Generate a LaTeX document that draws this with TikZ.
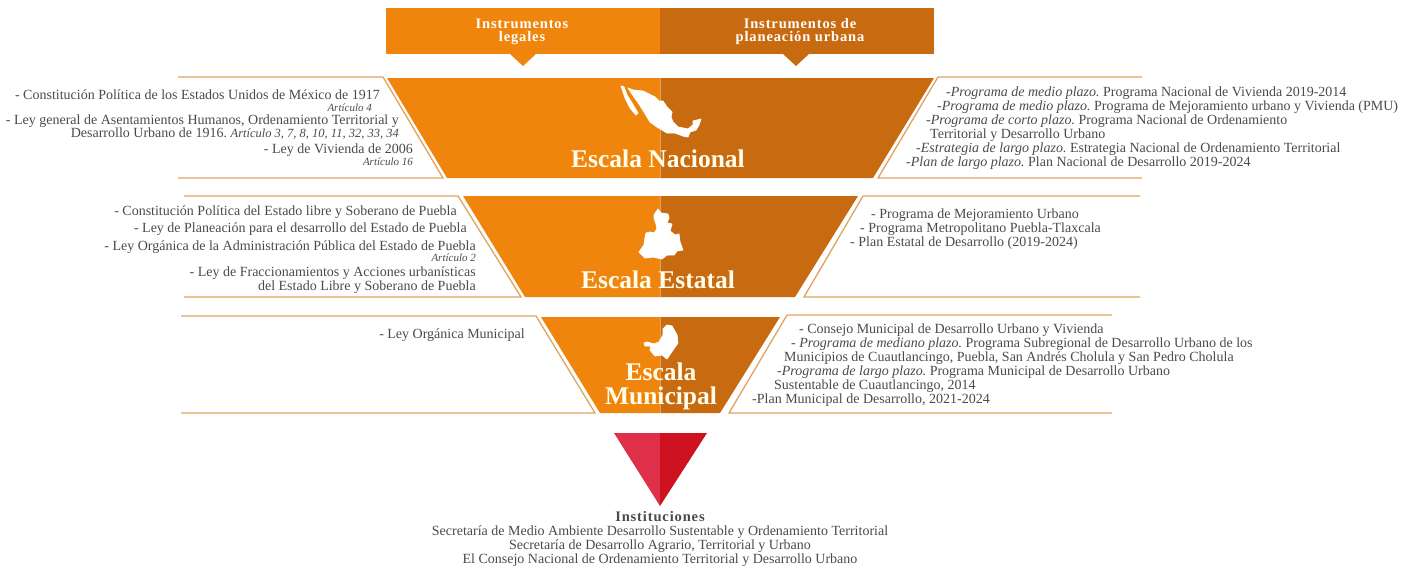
\documentclass[tikz,border=0pt]{standalone}
\usepackage{fontspec}
\setmainfont{Liberation Serif}
\newfontfamily\headfont[LetterSpace=6]{Liberation Serif}
\usepackage{tikz}
\definecolor{naranja}{HTML}{F0850E}
\definecolor{ocre}{HTML}{C86A10}
\definecolor{borde}{HTML}{DFA35F}
\definecolor{rojoa}{HTML}{DF3049}
\definecolor{rojob}{HTML}{CE1220}
\definecolor{texto}{HTML}{4A4A4A}
\tikzstyle{ley}=[inner sep=0pt, yshift=-2pt, text=texto, font=\fontsize{14}{14}\selectfont\frenchspacing, anchor=mid east]
\tikzstyle{plan}=[ley, anchor=mid west]
\tikzstyle{art}=[ley, font=\fontsize{11}{12}\selectfont\itshape]
\tikzstyle{head}=[inner sep=0pt, text=white, align=center, font=\fontsize{14.5}{13}\selectfont\headfont\bfseries]
\tikzstyle{escala}=[inner sep=0pt, text=white!92!yellow, align=center, font=\fontsize{25.5}{24}\selectfont\bfseries]
\tikzstyle{inst}=[inner sep=0pt, text=texto, font=\fontsize{14}{14}\selectfont]
\tikzstyle{marco}=[draw=borde, line width=1.3pt, line join=miter]
\tikzstyle{mapa}=[fill=white, draw=white, line width=0.8pt, line join=round]
\newcommand{\ley}[2]{node (#1)[ley]{#2}}
\newcommand{\plan}[2]{node (#1)[plan]{#2}}
\newcommand{\art}[2]{node (#1)[art]{#2}}
\newcommand{\inst}[2]{node (#1)[inst]{#2}}
% half funnel, left and right colour
\newcommand{\embudo}[5]{
	\fill[naranja] (#1,#3) -- (660,#3) -- (660,#4) -- (#2,#4) -- cycle;
	\fill[ocre] (660,#3) -- (#5,#3) -- (1320-#2,#4) -- (660,#4) -- cycle;
	\draw[borde, line width=0.4pt] (660,#3) -- (660,#4);
}

\begin{document}
\begin{tikzpicture}[x=1pt,y=-1pt]
		\useasboundingbox (0,0) rectangle (1416,568);
		
		% Header
		\fill[naranja] (386,8) rectangle (660,54);
		\fill[ocre] (660,8) rectangle (934,54);
		\fill[naranja] (510,54) -- (536,54) -- (523,66) -- cycle;
		\fill[ocre] (783,54) -- (809,54) -- (796,66) -- cycle;
		\path (522,32) node (legales)[head]{Instrumentos\\legales};
		\path (800,32) node (planeacion)[head]{Instrumentos de\\planeaci\'on urbana};
		
		% Funnels
		\embudo{387}{447}{78}{178}{934}
		\embudo{463}{525}{196}{297}{858}
		\embudo{541}{600}{317}{413}{780}
		
		% Frames
		\draw[marco] (178,77) -- (383,77) -- (443,178) -- (178,178);
		\draw[marco] (1142,77) -- (938,77) -- (878,178) -- (1142,178);
		\draw[marco] (184,196) -- (458,196) -- (521,297) -- (184,297);
		\draw[marco] (1140,196) -- (863,196) -- (804,297) -- (1140,297);
		\draw[marco] (181,316) -- (536,316) -- (595,413) -- (181,413);
		\draw[marco] (1112,315) -- (787,315) -- (729,413) -- (1112,413);
		
		% Maps
		\path[mapa] (621,86) -- (624,87) -- (627,95) -- (632,103) -- (638,113) -- (636,115) -- (630,108) -- (625,98) -- cycle;
		\path[mapa] (628,88) -- (633,90) -- (643,91) -- (649,94) -- (655,97) -- (659,101) -- (663,101) -- (667,107) -- (672,112) -- (671,117) -- (673,122) -- (678,127) -- (688,129) -- (693,125) -- (693,121) -- (701,119) -- (699,125) -- (696,130) -- (690,132) -- (688,137) -- (683,136) -- (675,133) -- (667,133) -- (657,127) -- (650,122) -- (644,112) -- (639,104) -- (634,97) -- cycle;
		\path[mapa] (658,209) -- (661,213) -- (668,214) -- (669,218) -- (667,223) -- (672,224) -- (670,231) -- (675,235) -- (679,234) -- (680,242) -- (683,250) -- (677,251) -- (674,255) -- (667,255) -- (662,259) -- (653,257) -- (645,258) -- (639,252) -- (644,245) -- (645,238) -- (646,233) -- (650,232) -- (654,233) -- (657,229) -- (656,224) -- (654,218) -- (654,215) -- cycle;
		\path[mapa] (663,329) -- (667,325) -- (672,326) -- (677,335) -- (678,343) -- (673,350) -- (667,359) -- (662,355) -- (655,356) -- (650,350) -- (651,346) -- (645,346) -- (644,343) -- (647,342) -- (654,344) -- (659,342) -- (663,335) -- cycle;
		
		% Scale names
		\path (658,159) node (nacional)[escala]{Escala Nacional};
		\path (658,280) node (estatal)[escala]{Escala Estatal};
		\path (661,386) node (municipal)[escala]{Escala\\Municipal};
		
		% Legal instruments
		\path (380,95) \ley{n1}{- Constituci\'on Pol\'itica de los Estados Unidos de M\'exico de 1917};
		\path (372,107) \art{n2}{Art\'iculo 4};
		\path (399,120) \ley{n3}{- Ley general de Asentamientos Humanos, Ordenamiento Territorial y};
		\path (399,133) node (n4)[ley]{Desarrollo Urbano de 1916. {\fontsize{12.5}{12}\selectfont\itshape Art\'iculo 3, 7, 8, 10, 11, 32, 33, 34}};
		\path (413,149) \ley{n5}{- Ley de Vivienda de 2006};
		\path (413,161) \art{n6}{Art\'iculo 16};
		
		\path (457,211) \ley{e1}{- Constituci\'on Pol\'itica del Estado libre y Soberano de Puebla};
		\path (467,228) \ley{e2}{- Ley de Planeaci\'on para el desarrollo del Estado de Puebla};
		\path (476,246) \ley{e3}{- Ley Org\'anica de la Administraci\'on P\'ublica del Estado de Puebla};
		\path (476,257) \art{e4}{Art\'iculo 2};
		\path (476,272) \ley{e5}{- Ley de Fraccionamientos y Acciones urban\'isticas};
		\path (476,286) \ley{e6}{del Estado Libre y Soberano de Puebla};
		
		\path (525,334) \ley{m1}{- Ley Org\'anica Municipal};
		
		% Planning instruments
		\path (946,92) \plan{pn1}{\textit{-Programa de medio plazo.} Programa Nacional de Vivienda 2019-2014};
		\path (937,106) \plan{pn2}{\textit{-Programa de medio plazo.} Programa de Mejoramiento urbano y Vivienda (PMU)};
		\path (926,120) \plan{pn3}{\textit{-Programa de corto plazo.} Programa Nacional de Ordenamiento};
		\path (930,134) \plan{pn4}{Territorial y Desarrollo Urbano};
		\path (916,148) \plan{pn5}{\textit{-Estrategia de largo plazo.} Estrategia Nacional de Ordenamiento Territorial};
		\path (906,162) \plan{pn6}{\textit{-Plan de largo plazo.} Plan Nacional de Desarrollo 2019-2024};
		
		\path (871,214) \plan{pe1}{- Programa de Mejoramiento Urbano};
		\path (860,228) \plan{pe2}{- Programa Metropolitano Puebla-Tlaxcala};
		\path (850,242) \plan{pe3}{- Plan Estatal de Desarrollo (2019-2024)};
		
		\path (799,329) \plan{pm1}{- Consejo Municipal de Desarrollo Urbano y Vivienda};
		\path (791,343) \plan{pm2}{- \textit{Programa de mediano plazo.} Programa Subregional de Desarrollo Urbano de los};
		\path (784,357) \plan{pm3}{Municipios de Cuautlancingo, Puebla, San Andr\'es Cholula y San Pedro Cholula};
		\path (777,371) \plan{pm4}{\textit{-Programa de largo plazo.} Programa Municipal de Desarrollo Urbano};
		\path (774,385) \plan{pm5}{Sustentable de Cuautlancingo, 2014};
		\path (752,399) \plan{pm6}{-Plan Municipal de Desarrollo, 2021-2024};
		
		% Institutions
		\fill[rojoa] (614,433) -- (660,433) -- (660,506) -- cycle;
		\fill[rojob] (660,433) -- (707,433) -- (660,506) -- cycle;
		\path (660,517) node (i0)[inst, font=\fontsize{14.5}{14}\selectfont\headfont\bfseries]{Instituciones};
		\path (660,532) \inst{i1}{Secretar\'ia de Medio Ambiente Desarrollo Sustentable y Ordenamiento Territorial};
		\path (660,546) \inst{i2}{Secretar\'ia de Desarrollo Agrario, Territorial y Urbano};
		\path (660,560) \inst{i3}{El Consejo Nacional de Ordenamiento Territorial y Desarrollo Urbano};
		\end{tikzpicture}
\end{document}
